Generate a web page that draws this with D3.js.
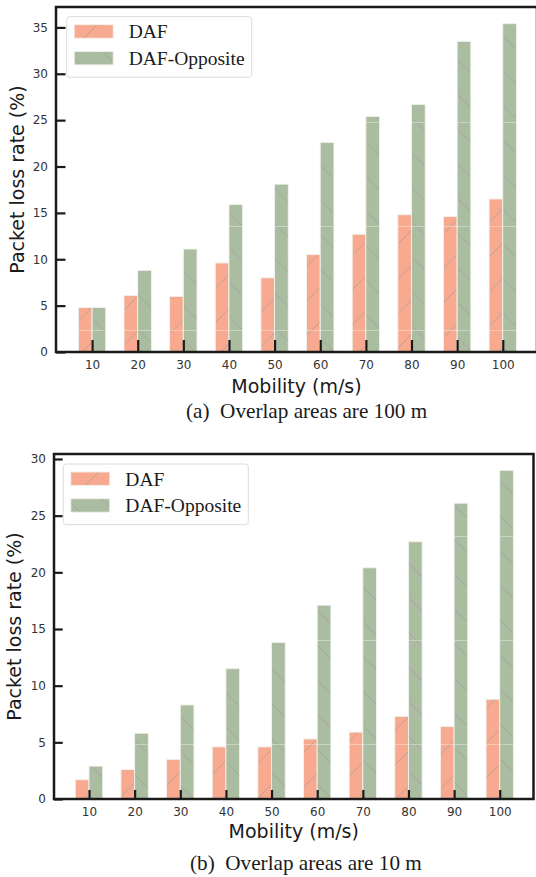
<!DOCTYPE html>
<html>
<head>
<meta charset="utf-8">
<script src="https://cdn.jsdelivr.net/npm/d3@7/dist/d3.min.js"></script>
<style>
  html, body { margin: 0; padding: 0; background: #fff; }
  svg { display: block; }
</style>
</head>
<body>
<svg id="fig" width="536" height="877"></svg>
<script>
// Mobility levels (m/s) shared by both panels
const mobility = ["10", "20", "30", "40", "50", "60", "70", "80", "90", "100"];
const seriesNames = ["DAF", "DAF-Opposite"];

// Panel (a): overlap areas of 100 m
const dafA      = [4.8, 6.1, 6.0, 9.6, 8.0, 10.5, 12.7, 14.8, 14.6, 16.5];
const oppositeA = [4.8, 8.8, 11.1, 15.9, 18.1, 22.6, 25.4, 26.7, 33.5, 35.4];
const yTicksA   = [0, 5, 10, 15, 20, 25, 30, 35];

// Panel (b): overlap areas of 10 m
const dafB      = [1.7, 2.6, 3.5, 4.6, 4.6, 5.3, 5.9, 7.3, 6.4, 8.8];
const oppositeB = [2.9, 5.8, 8.3, 11.5, 13.8, 17.1, 20.4, 22.7, 26.1, 29.0];
const yTicksB   = [0, 5, 10, 15, 20, 25, 30];

const colors = ["#f7aa8f", "#abbda0"];
const svg = d3.select("#fig");
const defs = svg.append("defs");

// hatch patterns: "/" for DAF, "\" for DAF-Opposite
function makeHatch(id, fill, forward, offY) {
  const s = 104;
  const p = defs.append("pattern")
    .attr("id", id)
    .attr("patternUnits", "userSpaceOnUse")
    .attr("width", s).attr("height", s)
    .attr("y", offY);
  p.append("rect").attr("width", s).attr("height", s).attr("fill", fill);
  const step = s / 3;
  for (let k = -3; k <= 3; k++) {
    const o = k * step;
    if (forward) {
      p.append("line").attr("x1", o).attr("y1", s).attr("x2", o + s).attr("y2", 0);
    } else {
      p.append("line").attr("x1", o).attr("y1", 0).attr("x2", o + s).attr("y2", s);
    }
  }
  p.selectAll("line").attr("stroke", "#9a9a9a").attr("stroke-width", 0.8).attr("opacity", 0.8);
  p.append("line").attr("x1", 0).attr("y1", 0.5).attr("x2", s).attr("y2", 0.5)
    .attr("stroke", "#ffffff").attr("stroke-width", 1).attr("opacity", 0.35);
}

function drawPanel(cfg) {
  const g = svg.append("g");
  const idx = d3.range(mobility.length);
  const x = d3.scaleLinear().domain([cfg.xMin, cfg.xMax]).range([cfg.left, cfg.right]);
  const y = d3.scaleLinear().domain([0, cfg.yMax]).range([cfg.bottom, cfg.top]);
  const step = x(1) - x(0);
  const bw = 0.3 * step;

  makeHatch(cfg.id + "h0", colors[0], true, cfg.seam);
  makeHatch(cfg.id + "h1", colors[1], false, cfg.seam);

  const series = [cfg.daf, cfg.opp];
  series.forEach((vals, si) => {
    g.append("g").selectAll("rect")
      .data(idx)
      .join("rect")
      .attr("x", i => si === 0 ? x(i) - bw : x(i))
      .attr("y", i => y(vals[i]))
      .attr("width", bw)
      .attr("height", i => y(0) - y(vals[i]))
      .attr("fill", `url(#${cfg.id}h${si})`)
      .attr("stroke", "#f2f2ee")
      .attr("stroke-width", 0.9);
  });

  // x axis: ticks pointing inward
  const xAxis = d3.axisBottom(x)
    .tickValues(idx)
    .tickFormat(i => mobility[i])
    .tickSizeInner(-cfg.xTick)
    .tickSizeOuter(0)
    .tickPadding(8);
  const xg = g.append("g").attr("transform", `translate(0,${cfg.bottom})`).call(xAxis);
  xg.select(".domain").remove();
  xg.selectAll(".tick line").attr("stroke", "#1a1a1a").attr("stroke-width", 2.2);
  xg.selectAll(".tick text")
    .attr("fill", "#333").attr("font-family", "DejaVu Sans").attr("font-size", 12);

  // y axis: ticks pointing inward
  const yAxis = d3.axisLeft(y)
    .tickValues(cfg.yTicks)
    .tickSizeInner(-cfg.yTick)
    .tickSizeOuter(0)
    .tickPadding(8);
  const yg = g.append("g").attr("transform", `translate(${cfg.left},0)`).call(yAxis);
  yg.select(".domain").remove();
  yg.selectAll(".tick line").attr("stroke", "#1a1a1a").attr("stroke-width", 2.2);
  yg.selectAll(".tick text")
    .attr("fill", "#333").attr("font-family", "DejaVu Sans").attr("font-size", 12);

  // frame
  g.append("rect")
    .attr("x", cfg.left).attr("y", cfg.top)
    .attr("width", cfg.right - cfg.left).attr("height", cfg.bottom - cfg.top)
    .attr("fill", "none").attr("stroke", "#1a1a1a").attr("stroke-width", 2.5);

  // axis titles
  g.append("text")
    .attr("transform", `translate(${cfg.yLabelX},${(cfg.top + cfg.bottom) / 2}) rotate(-90)`)
    .attr("text-anchor", "middle")
    .attr("font-family", "DejaVu Sans").attr("font-size", 19).attr("fill", "#1a1a1a")
    .text("Packet loss rate (%)");
  g.append("text")
    .attr("x", (cfg.left + cfg.right) / 2).attr("y", cfg.xLabelY)
    .attr("text-anchor", "middle")
    .attr("font-family", "DejaVu Sans").attr("font-size", 19).attr("fill", "#1a1a1a")
    .text("Mobility (m/s)");

  // caption
  g.append("text")
    .attr("x", cfg.capX).attr("y", cfg.capY)
    .attr("font-family", "Liberation Serif").attr("font-size", 21.2).attr("fill", "#1a1a1a")
    .attr("xml:space", "preserve")
    .text(cfg.caption);

  // legend
  const L = cfg.legend;
  const lg = g.append("g");
  lg.append("rect")
    .attr("x", L.x).attr("y", L.y).attr("width", L.w).attr("height", L.h)
    .attr("rx", 3).attr("fill", "#fff").attr("fill-opacity", 0.85)
    .attr("stroke", "#dcdcdc").attr("stroke-width", 1);
  seriesNames.forEach((name, si) => {
    const py = L.y + 8 + si * 26.7;
    lg.append("rect")
      .attr("x", L.x + 7.5).attr("y", py).attr("width", 39).attr("height", 13.5)
      .attr("fill", `url(#${cfg.id}h${si})`)
      .attr("stroke", "#f2f2ee").attr("stroke-width", 0.9);
    lg.append("text")
      .attr("x", L.x + 62).attr("y", py + 13.5)
      .attr("font-family", "Liberation Serif").attr("font-size", 19.5).attr("fill", "#1a1a1a")
      .text(name);
  });
}

drawPanel({
  id: "a", daf: dafA, opp: oppositeA, yTicks: yTicksA,
  left: 56, right: 537, top: 7, bottom: 352,
  xMin: -0.79, xMax: 9.75, yMax: 37.2,
  xTick: 12, yTick: 9.5, seam: 18,
  yLabelX: 24, xLabelY: 393,
  caption: "(a)  Overlap areas are 100 m", capX: 186, capY: 418,
  legend: { x: 66.7, y: 16.7, w: 185, h: 60.6 }
});

drawPanel({
  id: "b", daf: dafB, opp: oppositeB, yTicks: yTicksB,
  left: 54, right: 533.5, top: 454, bottom: 799,
  xMin: -0.767, xMax: 9.74, yMax: 30.44,
  xTick: 9, yTick: 8.7, seam: 16,
  yLabelX: 21, xLabelY: 838,
  caption: "(b)  Overlap areas are 10 m", capX: 190, capY: 870,
  legend: { x: 63.3, y: 464, w: 185, h: 60.7 }
});
</script>
</body>
</html>
